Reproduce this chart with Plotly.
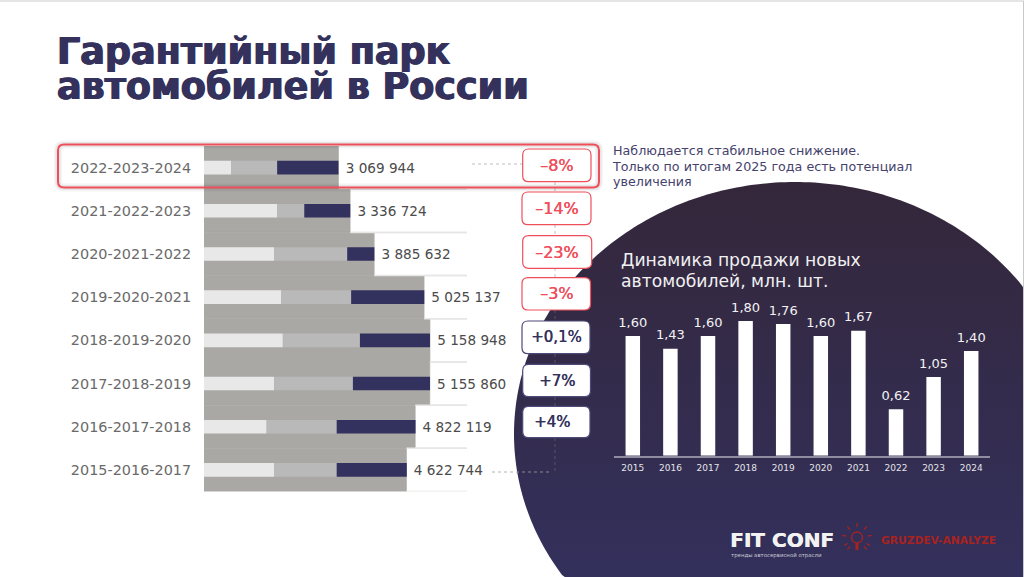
import math
import numpy as np
import plotly.graph_objects as go

W, H = 1024, 577
FONT = "DejaVu Sans"
NAVY = "#34315c"
RED = "#ef4f5b"

# ---- left chart data ----
periods = ["2022-2023-2024", "2021-2022-2023", "2020-2021-2022", "2019-2020-2021",
           "2018-2019-2020", "2017-2018-2019", "2016-2017-2018", "2015-2016-2017"]
totals = [3069944, 3336724, 3885632, 5025137, 5158948, 5155860, 4822119, 4622744]
first_year = [0.62, 1.67, 1.60, 1.76, 1.80, 1.60, 1.43, 1.60]
second_year = [1.05, 0.62, 1.67, 1.60, 1.76, 1.80, 1.60, 1.43]
third_year = [1.40, 1.05, 0.62, 1.67, 1.60, 1.76, 1.80, 1.60]
changes = ["–8%", "–14%", "–23%", "–3%", "+0,1%", "+7%", "+4%"]

# ---- right chart data ----
years = ["2015", "2016", "2017", "2018", "2019", "2020", "2021", "2022", "2023", "2024"]
sales = [1.60, 1.43, 1.60, 1.80, 1.76, 1.60, 1.67, 0.62, 1.05, 1.40]
sales_labels = ["1,60", "1,43", "1,60", "1,80", "1,76", "1,60", "1,67", "0,62", "1,05", "1,40"]

title_lines = ["Гарантийный парк", "автомобилей в России"]
note_lines = ["Наблюдается стабильное снижение.", "Только по итогам 2025 года есть потенциал", "увеличения"]
sub_title_lines = ["Динамика продажи новых", "автомобилей, млн. шт."]


def px(x):
    return x / W


def py(y):
    return 1 - y / H


def sized(lines, size, bold=False):
    body = [f"<b>{s}</b>" if bold else s for s in lines]
    return "<br>".join(f'<span style="font-size:{size}px">{s}</span>' for s in body)


def rounded(x0, y0, x1, y1, r):
    return (f"M{px(x0 + r)},{py(y0)} L{px(x1 - r)},{py(y0)} "
            f"Q{px(x1)},{py(y0)} {px(x1)},{py(y0 + r)} L{px(x1)},{py(y1 - r)} "
            f"Q{px(x1)},{py(y1)} {px(x1 - r)},{py(y1)} L{px(x0 + r)},{py(y1)} "
            f"Q{px(x0)},{py(y1)} {px(x0)},{py(y1 - r)} L{px(x0)},{py(y0 + r)} "
            f"Q{px(x0)},{py(y0)} {px(x0 + r)},{py(y0)} Z")


fig = go.Figure()

# ---- dark backdrop ----
t = np.linspace(0, 2 * math.pi, 361)
fig.add_trace(go.Scatter(
    x=np.clip(795 + 281 * np.cos(t), 0, W), y=np.clip(434 + 252 * np.sin(t), 0, H),
    mode="none", fill="toself", xaxis="x", yaxis="y", hoverinfo="skip", showlegend=False,
    fillgradient=dict(type="vertical", colorscale=[[0, "#33305c"], [1, "#34273a"]]),
))

# ---- left chart ----
rows = list(range(len(periods)))
totals_m = [v / 1e6 for v in totals]
labels = [f"{v:,}".replace(",", " ") for v in totals]
fig.add_trace(go.Bar(
    y=rows, x=totals_m, orientation="h", width=1.0,
    marker=dict(color="#aaa8a5", line=dict(color="#aaa8a5", width=0.6)),
    xaxis="x2", yaxis="y2", showlegend=False, hoverinfo="skip",
))
base = [0.0] * 8
for vals, col in ((first_year, "#e8e8e8"), (second_year, "#b9b9b9"), (third_year, "#33315e")):
    fig.add_trace(go.Bar(
        y=rows, x=vals, base=list(base), orientation="h", width=0.315,
        marker=dict(color=col, line_width=0), xaxis="x2", yaxis="y2", showlegend=False,
    ))
    base = [b + v for b, v in zip(base, vals)]
fig.add_trace(go.Scatter(
    x=totals_m, y=[r + 0.04 for r in rows], mode="markers+text", text=labels, textposition="middle right",
    marker=dict(size=10, opacity=0), cliponaxis=False, hoverinfo="skip",
    textfont=dict(family=FONT, size=13.6, color="#4b4b4b"),
    xaxis="x2", yaxis="y2", showlegend=False,
))

# ---- right chart ----
fig.add_trace(go.Bar(
    x=years, y=sales, width=0.385,
    marker=dict(color="#ffffff", line_width=0), xaxis="x3", yaxis="y3", showlegend=False,
))
fig.add_trace(go.Scatter(
    x=years, y=sales, mode="markers+text", text=sales_labels, textposition="top center",
    marker=dict(size=8, opacity=0), cliponaxis=False, hoverinfo="skip",
    textfont=dict(family=FONT, size=13, color="#f2f2f4"),
    xaxis="x3", yaxis="y3", showlegend=False,
))

shapes = []
annotations = []

# step lines right of the grey block
XMAX = 263 / 43.8
for i, v in enumerate(totals_m):
    if i == 0:
        continue
    for edge in (i - 0.5, i + 0.5):
        shapes.append(dict(type="line", xref="x2", yref="y2", x0=v, x1=XMAX, y0=edge, y1=edge,
                           line=dict(color="#e6e6e6", width=1.5)))

# dotted connectors
for (x0, y0, x1, y1, c) in [(472, 164, 522, 164, "#b0b0b0"), (492, 472, 550, 472, "#a0a0a0"),
                            (555, 182, 555, 192, "#b0b0b0"), (555, 225, 555, 236, "#b0b0b0"),
                            (555, 268, 555, 278, "#b0b0b0"), (555, 310, 555, 321, "#5f5b75"),
                            (555, 354, 555, 364, "#5f5b75"), (555, 397, 555, 406, "#5f5b75"),
                            (555, 438, 555, 472, "#5f5b75")]:
    shapes.append(dict(type="line", xref="paper", yref="paper", x0=px(x0), x1=px(x1), y0=py(y0), y1=py(y1),
                       line=dict(color=c, width=0.8, dash="dot")))

# highlight box with soft shadow
for w, op in ((8, 0.04), (5, 0.05)):
    shapes.append(dict(type="path", xref="paper", yref="paper", path=rounded(58, 144.5, 599, 187.5, 6),
                       line=dict(color="#000000", width=w), opacity=op))
shapes.append(dict(type="path", xref="paper", yref="paper", path=rounded(58, 144.5, 599, 187.5, 6),
                   line=dict(color=RED, width=2)))

# change pills
pills = [(522.7, 149, 591, 181.7), (522, 192, 591, 224.7), (522.7, 235.7, 591.7, 268.3),
         (522, 277.7, 590.5, 310), (522, 321, 590, 353.7), (522.7, 364.3, 590.5, 396.7),
         (522.7, 406.3, 590, 437.7)]
offsets = [0, 0, 0, 0, 0, 0, -4]
for ch, (x0, y0, x1, y1), dx in zip(changes, pills, offsets):
    neg = ch.startswith("–")
    c = RED if neg else "#4c4a78"
    tc = RED if neg else NAVY
    shapes.append(dict(type="path", xref="paper", yref="paper", path=rounded(x0, y0, x1, y1, 6),
                       fillcolor="#ffffff", line=dict(color=c, width=1.2)))
    annotations.append(dict(xref="paper", yref="paper", x=px((x0 + x1) / 2 + dx), y=py((y0 + y1) / 2),
                            text=ch, showarrow=False, xanchor="center", yanchor="middle",
                            font=dict(family=FONT, size=16 if neg else 15, color=tc,
                                      shadow=f"0.4px 0 0 {tc}")))

# title, note, sub-title
annotations.append(dict(xref="paper", yref="paper", x=px(55), y=py(69.5), text=sized(title_lines, 36.5, True),
                        showarrow=False, xanchor="left", yanchor="middle", align="left",
                        font=dict(family=FONT, size=27, color=NAVY,
                                  shadow=f"0.7px 0 0 {NAVY}, -0.7px 0 0 {NAVY}")))
annotations.append(dict(xref="paper", yref="paper", x=px(610), y=py(165.5), text=sized(note_lines, 12.7),
                        showarrow=False, xanchor="left", yanchor="middle", align="left",
                        font=dict(family=FONT, size=12, color="#45426c")))
annotations.append(dict(xref="paper", yref="paper", x=px(619), y=py(270), text=sized(sub_title_lines, 17.2),
                        showarrow=False, xanchor="left", yanchor="middle", align="left",
                        font=dict(family=FONT, size=16.2, color="#f1f1f3")))

# footer
annotations.append(dict(xref="paper", yref="paper", x=px(728), y=py(540), text="<b>FIT CONF</b>", showarrow=False,
                        xanchor="left", yanchor="middle",
                        font=dict(family=FONT, size=20, color="#f2f2f2", shadow="0.5px 0 0 #f2f2f2")))
annotations.append(dict(xref="paper", yref="paper", x=px(729), y=py(555), text="тренды автосервисной отрасли",
                        showarrow=False, xanchor="left", yanchor="middle",
                        font=dict(family=FONT, size=5.4, color="#c9c9d2")))
annotations.append(dict(xref="paper", yref="paper", x=px(879), y=py(540), text="<b>GRUZDEV-ANALYZE</b>",
                        showarrow=False, xanchor="left", yanchor="middle",
                        font=dict(family=FONT, size=10.7, color="#a8231f")))

# bulb icon
cx, cy = 857, 538
shapes.append(dict(type="circle", xref="paper", yref="paper", x0=px(cx - 5.5), x1=px(cx + 5.5), y0=py(cy - 6), y1=py(cy + 5),
                   line=dict(color="#a8231f", width=1.3)))
shapes.append(dict(type="line", xref="paper", yref="paper", x0=px(cx), x1=px(cx), y0=py(cy + 5), y1=py(cy + 12),
                   line=dict(color="#a8231f", width=3)))
for a in (-90, -50, -10, 30, 150, 190, 230, 130, 50):
    ra = math.radians(a)
    shapes.append(dict(type="line", xref="paper", yref="paper",
                       x0=px(cx + 11 * math.cos(ra)), x1=px(cx + 15 * math.cos(ra)),
                       y0=py(cy + 11 * math.sin(ra)), y1=py(cy + 15 * math.sin(ra)),
                       line=dict(color="#a8231f", width=1.2)))

# screenshot edges
shapes.append(dict(type="line", xref="paper", yref="paper", x0=0, x1=1, y0=py(1), y1=py(1),
                   line=dict(color="#dcdcdc", width=1.5)))
shapes.append(dict(type="line", xref="paper", yref="paper", x0=px(1023.5), x1=px(1023.5), y0=py(1), y1=0,
                   line=dict(color="#c9c9c9", width=1)))

hidden = dict(visible=False, fixedrange=True)
fig.update_layout(
    width=W, height=H, margin=dict(l=0, r=0, t=0, b=0, pad=0), autosize=False,
    paper_bgcolor="#ffffff", plot_bgcolor="rgba(0,0,0,0)",
    barmode="overlay", showlegend=False, font=dict(family=FONT),
    shapes=shapes, annotations=annotations,
    xaxis=dict(domain=[0, 1], range=[0, W], **hidden),
    yaxis=dict(domain=[0, 1], range=[H, 0], **hidden),
    xaxis2=dict(domain=[px(204), px(467)], range=[0, XMAX], anchor="y2", **hidden),
    yaxis2=dict(domain=[py(491.5), py(146)], range=[7.5, -0.5], tickmode="array", tickvals=rows, ticktext=periods,
                anchor="x2", side="left", showline=False, showgrid=False, zeroline=False,
                ticks="outside", ticklen=9, tickcolor="rgba(0,0,0,0)",
                tickfont=dict(family=FONT, size=14.4, color="#6a6a6a"), fixedrange=True),
    xaxis3=dict(domain=[px(614), px(990)], range=[-0.5, 9.5], anchor="y3", type="category", categoryorder="array",
                categoryarray=years, showgrid=False, zeroline=False, showline=True,
                linecolor="#8f8d9f", linewidth=2, ticks="outside", ticklen=2,
                tickcolor="rgba(0,0,0,0)", tickfont=dict(family=FONT, size=9, color="#e4e4ea"),
                fixedrange=True),
    yaxis3=dict(domain=[py(455.7), py(306)], range=[0, 2], anchor="x3", **hidden),
)

fig.write_html("out.html", config={"displayModeBar": False},
               post_script="document.body.style.margin='0';document.body.style.overflow='hidden';")
